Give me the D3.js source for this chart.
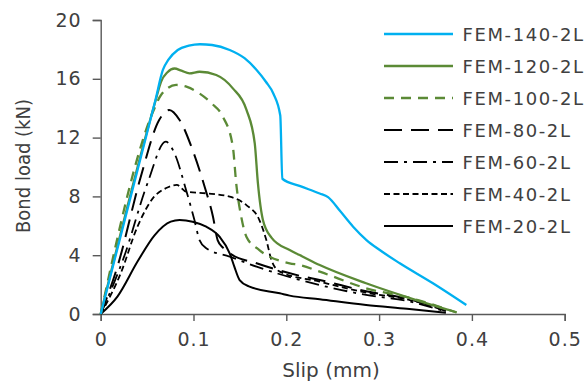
<!DOCTYPE html>
<html><head><meta charset="utf-8">
<script src="https://cdn.jsdelivr.net/npm/d3@7"></script>
<style>
html,body{margin:0;padding:0;background:#fff;}
text{font-family:"DejaVu Sans",sans-serif;fill:#404040;}
</style></head>
<body>
<svg id="chart" width="587" height="385"></svg>
<script>
// ---- data (slip mm, load kN) ----
const seriesNames = ["FEM-140-2L","FEM-120-2L","FEM-100-2L","FEM-80-2L","FEM-60-2L","FEM-40-2L","FEM-20-2L"];
const fem140 = [[0,0],[0.059,14.56],[0.067,16.6],[0.073,17.3],[0.083,17.96],[0.095,18.25],[0.107,18.35],[0.12,18.3],[0.139,17.96],[0.155,17.4],[0.168,16.6],[0.178,15.8],[0.186,15.0],[0.1935,13.5],[0.1957,9.2],[0.215,8.7],[0.236,8.2],[0.245,7.95],[0.258,7.0],[0.272,5.94],[0.2864,5.03],[0.3007,4.35],[0.3223,3.45],[0.358,2.09],[0.394,0.61]];
const fem120 = [[0,0],[0.0593,14.56],[0.065,15.8],[0.072,16.45],[0.0795,16.7],[0.087,16.55],[0.0957,16.37],[0.1065,16.48],[0.1245,16.26],[0.1424,15.35],[0.157,13.9],[0.166,11.6],[0.1694,8.9],[0.1748,6.4],[0.184,5.2],[0.2036,4.35],[0.2144,4.01],[0.236,3.33],[0.286,2.09],[0.34,0.95],[0.3835,0.12]];
const fem100 = [[0,0],[0.058,14.0],[0.065,14.9],[0.0813,15.58],[0.093,15.45],[0.1065,15.0],[0.12,14.3],[0.1317,13.42],[0.1424,11.38],[0.146,8.9],[0.1515,6.6],[0.157,5.26],[0.171,4.35],[0.2036,3.45],[0.2144,3.33],[0.236,2.88],[0.286,1.75],[0.333,1.1],[0.3835,0.1]];
const fem80 = [[0,0],[0.018,3.22],[0.0432,9.34],[0.063,13.2],[0.0738,13.88],[0.085,13.2],[0.099,11.16],[0.112,8.66],[0.121,6.62],[0.126,5.03],[0.132,4.5],[0.139,4.13],[0.168,3.45],[0.2144,2.6],[0.236,2.31],[0.286,1.55],[0.333,1.0],[0.372,0.2]];
const fem60 = [[0,0],[0.0252,3.9],[0.0504,8.89],[0.0701,11.72],[0.0795,10.93],[0.092,8.44],[0.101,6.39],[0.1065,5.03],[0.1137,4.47],[0.139,3.9],[0.168,3.22],[0.236,1.97],[0.286,1.3],[0.333,0.85],[0.37,0.2]];
const fem40 = [[0,0],[0.0216,2.77],[0.0396,5.94],[0.0576,7.98],[0.07,8.55],[0.082,8.78],[0.0921,8.32],[0.1137,8.21],[0.139,7.98],[0.157,7.41],[0.171,6.39],[0.1785,5.03],[0.184,3.67],[0.193,2.88],[0.236,2.2],[0.286,1.45],[0.333,0.95],[0.37,0.25]];
const fem20 = [[0,0],[0.018,1.18],[0.04,3.6],[0.058,5.35],[0.0755,6.28],[0.085,6.39],[0.099,6.28],[0.1137,5.94],[0.128,5.26],[0.139,4.13],[0.144,3.22],[0.1497,2.31],[0.1604,1.86],[0.193,1.41],[0.2036,1.25],[0.236,1.0],[0.286,0.61],[0.33,0.35],[0.372,0.08]];
const xTickValues = [0,0.1,0.2,0.3,0.4,0.5];
const xTickLabels = ["0","0.1","0.2","0.3","0.4","0.5"];
const yTickValues = [0,4,8,12,16,20];
const yTickLabels = ["0","4","8","12","16","20"];
const xTitle = "Slip  (mm)";
const yTitle = "Bond load (kN)";

// ---- styles ----
const styles = [
  {color:"#00b0f0", dash:null, w:2.3},
  {color:"#5b8a36", dash:null, w:2.3},
  {color:"#5b8a36", dash:"10,7", w:2.3},
  {color:"#000", dash:"18,9", w:2},
  {color:"#000", dash:"14,6,3,6", w:1.8},
  {color:"#000", dash:"6,3.5", w:1.8},
  {color:"#000", dash:null, w:2}
];
const allSeries = [fem140,fem120,fem100,fem80,fem60,fem40,fem20];

const svg = d3.select("#chart");
const x = d3.scaleLinear().domain([0,0.5]).range([100.7,564.7]);
const y = d3.scaleLinear().domain([0,20]).range([314,20]);

// axes
const xAxis = d3.axisBottom(x).tickValues(xTickValues).tickFormat((d,i)=>xTickLabels[i]).tickSizeOuter(0).tickSize(7).tickPadding(12);
const yAxis = d3.axisLeft(y).tickValues(yTickValues).tickFormat((d,i)=>yTickLabels[i]).tickSizeOuter(0).tickSize(8).tickPadding(11);

const gx = svg.append("g").attr("transform","translate(0,314)").call(xAxis);
const gy = svg.append("g").attr("transform","translate(100.7,0)").call(yAxis);
[gx,gy].forEach(g=>{
  g.select(".domain").attr("stroke","#595959").attr("stroke-width",1.4);
  g.selectAll(".tick line").attr("stroke","#595959").attr("stroke-width",1.4);
  g.selectAll(".tick text").attr("font-size",19).attr("fill","#404040").style("font-family","DejaVu Sans").attr("letter-spacing","1px");
});
gx.selectAll(".tick text").attr("dy","0.68em");

// lines
const line = d3.line().x(d=>x(d[0])).y(d=>y(d[1])).curve(d3.curveMonotoneX);
const order = [6,5,4,3,2,1,0];
order.forEach(i=>{
  const s = styles[i];
  svg.append("path").datum(allSeries[i]).attr("d",line)
    .attr("fill","none").attr("stroke",s.color).attr("stroke-width",s.w)
    .attr("stroke-dasharray",s.dash).attr("stroke-linejoin","round");
});

// titles
svg.append("text").attr("x",331).attr("y",377).attr("text-anchor","middle")
  .attr("font-size",20).text(xTitle);
svg.append("text").attr("transform","translate(30,166) rotate(-90)").attr("text-anchor","middle")
  .attr("font-size",19).attr("textLength",134).attr("lengthAdjust","spacingAndGlyphs").text(yTitle);

// legend
const lg = svg.append("g");
seriesNames.forEach((name,i)=>{
  const cy = 34 + i*32;
  const s = styles[i];
  lg.append("line").attr("x1",384).attr("x2",453).attr("y1",cy).attr("y2",cy)
    .attr("stroke",s.color).attr("stroke-width",s.w).attr("stroke-dasharray",s.dash);
  lg.append("text").attr("x",462.5).attr("y",cy+6.6).attr("font-size",18)
    .attr("letter-spacing","1.6px").text(name);
});
</script>
</body></html>
